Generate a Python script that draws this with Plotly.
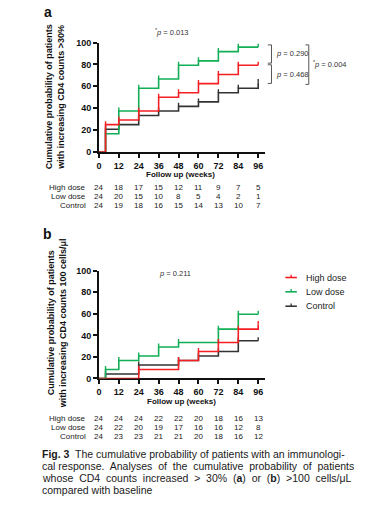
import plotly.graph_objects as go

W, H = 366, 506
FONT = "Liberation Sans, Arial, sans-serif"

# ---------------- data ----------------
weeks = [0, 4, 12, 24, 36, 48, 60, 72, 84, 96]
tick_weeks = [0, 12, 24, 36, 48, 60, 72, 84, 96]
y_ticks = [0, 20, 40, 60, 80, 100]
group_names = ["High dose", "Low dose", "Control"]

# panel a: CD4 counts increased >30%
a_high = [0, 25.0, 29.2, 37.5, 50.0, 54.2, 62.5, 70.8, 79.2, 79.2]
a_low = [0, 16.7, 37.5, 58.3, 66.7, 79.2, 83.3, 91.7, 95.8, 95.8]
a_ctrl = [0, 20.8, 25.0, 33.3, 37.5, 41.7, 45.8, 54.2, 58.3, 63.5]

# panel b: CD4 counts increased >100 cells/uL
b_high = [0, 0, 0, 8.3, 8.3, 16.7, 25.0, 33.3, 45.8, 50.0]
b_low = [0, 8.3, 16.7, 20.8, 29.2, 33.3, 33.3, 45.8, 59.5, 59.5]
b_ctrl = [0, 4.2, 4.2, 12.5, 12.5, 16.7, 20.8, 25.0, 35.0, 35.0]

# numbers at risk
a_risk_high = [24, 18, 17, 15, 12, 11, 9, 7, 5]
a_risk_low = [24, 20, 15, 10, 8, 5, 4, 2, 1]
a_risk_ctrl = [24, 19, 18, 16, 15, 14, 13, 10, 7]
b_risk_high = [24, 24, 24, 22, 22, 20, 18, 16, 13]
b_risk_low = [24, 22, 20, 19, 17, 16, 16, 12, 8]
b_risk_ctrl = [24, 23, 23, 21, 21, 20, 18, 16, 12]

p_a_overall = "0.013"
p_a_high_low = "0.290"
p_a_high_ctrl = "0.468"
p_a_low_ctrl = "0.004"
p_b_overall = "0.211"

# ---------------- style ----------------
COLORS = {"High dose": "#F41E23", "Low dose": "#12AE55", "Control": "#333333"}
TICK = 3.2  # censor tick length (axis units)


def fx(x):
    return x / W


def fy(y):
    return 1 - y / H


fig = go.Figure()


def add_curves(series, xa, ya):
    for name in ["Control", "Low dose", "High dose"]:
        ys = series[name]
        ticks = [0] + [TICK if (ys[i] != ys[i - 1] or i == len(ys) - 1) else 0
                       for i in range(1, len(ys))]
        c = COLORS[name]
        fig.add_trace(go.Scatter(
            x=weeks, y=ys, name=name, mode="lines",
            line=dict(color=c, width=1.6, shape="hv"),
            error_y=dict(type="data", symmetric=False, array=ticks,
                         arrayminus=[0] * len(ys), width=0, thickness=1.4, color=c),
            xaxis=xa, yaxis=ya, showlegend=False,
            cliponaxis=False, hoverinfo="skip"))


add_curves({"High dose": a_high, "Low dose": a_low, "Control": a_ctrl}, "x", "y")
add_curves({"High dose": b_high, "Low dose": b_low, "Control": b_ctrl}, "x2", "y2")

axis_common = dict(
    showline=True, linecolor="#111111", linewidth=1.8, ticks="outside",
    ticklen=4, tickwidth=1.5, tickcolor="#111111", showgrid=False,
    zeroline=False, layer="below traces",
    tickfont=dict(family=FONT, size=9, color="#111111", weight="bold"),
)
xdom = [fx(96.7), fx(264)]
fig.update_layout(
    xaxis=dict(domain=xdom, range=[0, 100], tickvals=tick_weeks, anchor="y", **axis_common),
    yaxis=dict(domain=[fy(150), fy(38.3)], range=[0, 100], tickvals=y_ticks, anchor="x", **axis_common),
    xaxis2=dict(domain=xdom, range=[0, 100], tickvals=tick_weeks, anchor="y2", **axis_common),
    yaxis2=dict(domain=[fy(381), fy(271)], range=[0, 100], tickvals=y_ticks, anchor="x2", **axis_common),
)

ann = []


def text(x, y, s, size, bold=False, xanchor="center", angle=0, xref="paper", color="#222222"):
    ann.append(dict(x=x, y=y, xref=xref, yref="paper", text=s, showarrow=False,
                    xanchor=xanchor, yanchor="middle", textangle=angle,
                    font=dict(family=FONT, size=size, color=color,
                              weight="bold" if bold else "normal")))


# panel labels
text(fx(45), fy(7.5), "a", 14, bold=True, color="#111111")
text(fx(45), fy(234), "b", 14, bold=True, color="#111111")

# y-axis titles
text(fx(53), fy(94), "Cumulative probability of patients<br>with increasing CD4 counts >30%",
     9, bold=True, angle=-90, color="#111111")
text(fx(54), fy(325), "Cumulative probability of patients<br>with increasing CD4 counts 100 cells/μl",
     9, bold=True, angle=-90, color="#111111")

# x-axis titles
text(fx(179), fy(173), "Follow up (weeks)", 8, bold=True, color="#111111")
text(fx(180), fy(405), "Follow up (weeks)", 8, bold=True, color="#111111")

# p-values
text(fx(170), fy(28), "<sup>*</sup><i>p</i> = " + p_a_overall, 7.5, color="#333333")
text(fx(173), fy(274), "<i>p</i> = " + p_b_overall, 7.5, color="#333333")
text(fx(273.5), fy(49.3), "<i>p</i> = " + p_a_high_low, 7.5, xanchor="left", color="#333333")
text(fx(273.5), fy(71), "<i>p</i> = " + p_a_high_ctrl, 7.5, xanchor="left", color="#333333")
text(fx(310.5), fy(60), "<sup>*</sup><i>p</i> = " + p_a_low_ctrl, 7.5, xanchor="left", color="#333333")

# number-at-risk tables
for rows, ys, xa in [((a_risk_high, a_risk_low, a_risk_ctrl), (186, 195, 204.3), "x"),
                     ((b_risk_high, b_risk_low, b_risk_ctrl), (421.7, 431, 440.3), "x2")]:
    for name, vals, yy in zip(group_names, rows, ys):
        text(fx(85.5), fy(yy), name, 8, xanchor="right")
        for wk, v in zip(tick_weeks, vals):
            text(wk, fy(yy), str(v), 8, xref=xa)

# caption
cap = [
    "<b>Fig. 3</b>  The cumulative probability of patients with an immunologi-",
    "cal response.  Analyses  of  the  cumulative  probability  of  patients",
    "whose  CD4  counts  increased  >  30%  (<b>a</b>)  or  (<b>b</b>)  >100  cells/μL",
    "compared with baseline",
]
for s, yy in zip(cap, (458, 470.3, 482.6, 494.5)):
    text(fx(37), fy(yy), s, 10.5, xanchor="left", color="#1a1a1a")

shapes = []
# significance brackets (panel a)
for x0, x1, y0, y1 in [(267, 270.7, 40.7, 59.3), (267, 270.7, 61, 80), (305, 308.3, 40.7, 81)]:
    shapes.append(dict(type="path", xref="paper", yref="paper",
                       path=f"M{fx(x0)},{fy(y0)} L{fx(x1)},{fy(y0)} L{fx(x1)},{fy(y1)} L{fx(x0)},{fy(y1)}",
                       line=dict(color="#555555", width=1)))

# legend (panel b)
for name, yy in zip(group_names, (278, 292.6, 307.3)):
    c = COLORS[name]
    shapes.append(dict(type="line", xref="paper", yref="paper",
                       x0=fx(284.7), x1=fx(296.3), y0=fy(yy), y1=fy(yy),
                       line=dict(color=c, width=1.6)))
    shapes.append(dict(type="line", xref="paper", yref="paper",
                       x0=fx(290.5), x1=fx(290.5), y0=fy(yy), y1=fy(yy - 2.8),
                       line=dict(color=c, width=1.3)))
    text(fx(303), fy(yy), name, 9, xanchor="left", color="#222222")

fig.update_layout(
    width=W, height=H, margin=dict(l=0, r=0, t=0, b=0),
    paper_bgcolor="white", plot_bgcolor="white",
    annotations=ann, shapes=shapes, showlegend=False,
)

fig.write_html("out.html", config={"displayModeBar": False},
               post_script="document.body.style.margin='0';")
